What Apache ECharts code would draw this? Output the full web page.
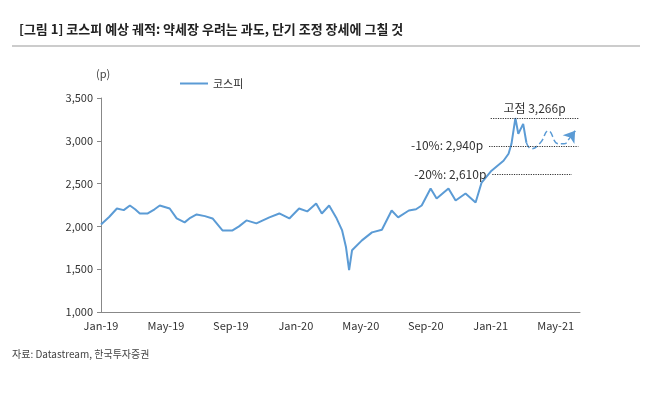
<!DOCTYPE html>
<html><head><meta charset="utf-8">
<script src="https://cdn.jsdelivr.net/npm/echarts@6/dist/echarts.min.js"></script>
<style>body{margin:0;background:#fff}#box{width:654px;height:410px}</style>
</head><body><div id="box"></div>
<script>
// 월 인덱스 (0 = Jan-19), 코스피 값
var months = [0,0.5,0.98,1.4,1.78,2.1,2.39,2.88,3.3,3.62,4.23,4.66,5.15,5.5,5.89,6.4,6.87,7.48,8.1,8.5,8.96,9.57,10.37,10.98,11.6,12.2,12.7,13.25,13.6,14.05,14.48,14.85,15.09,15.28,15.46,16.07,16.69,17.3,17.9,18.3,18.96,19.4,19.75,20.3,20.67,21.4,21.84,22.45,23.07,23.44,24.05,24.79,25.1,25.28,25.52,25.7,26.0,26.2];
var kospi = [2023,2110,2209,2190,2244,2200,2151,2151,2200,2244,2209,2093,2047,2100,2140,2120,2093,1953,1953,2000,2070,2035,2105,2151,2093,2209,2175,2267,2151,2244,2105,1953,1756,1488,1721,1837,1930,1960,2186,2105,2186,2200,2244,2442,2326,2442,2302,2384,2279,2512,2651,2767,2849,2965,3266,3081,3198,2977];
// 예상 궤적 (점선)
var fcMonths = [26.2,26.5,27.06,27.55,28.16,28.5,28.9,29.2];
var fcValues = [2977,2907,2977,3116,2965,2965,3040,3116];
var refLevels = [3266,2940,2610];
var refLabels = ['고점 3,266p','-10%: 2,940p','-20%: 2,610p'];
var monthLabels = {0:'Jan-19',4:'May-19',8:'Sep-19',12:'Jan-20',16:'May-20',20:'Sep-20',24:'Jan-21',28:'May-21'};

var myChart = echarts.init(document.getElementById('box'));
var font = 'Noto Sans CJK KR';
var n = fcMonths.length;
var starts = [24.0,23.9,24.1];
var ends = [29.4,29.4,29.0];
var refLines = refLevels.map(function(v,i){
  return [{coord:[starts[i],v],label:{show:true,formatter:refLabels[i],
    position:i===0?'insideMiddleTop':'start',fontSize:12,color:'#333',distance:i===0?4:6}},
    {coord:[ends[i],v]}];
});
var option = {
  backgroundColor:'#fff',
  textStyle:{fontFamily:font},
  title:{text:'[그림 1] 코스피 예상 궤적: 약세장 우려는 과도, 단기 조정 장세에 그칠 것',left:14,top:18,
    textStyle:{fontSize:13,fontWeight:'bold',color:'#222',fontFamily:font}},
  graphic:[
    {type:'line',shape:{x1:12,y1:46,x2:640,y2:46},style:{stroke:'#999',lineWidth:1}},
    {type:'text',left:96,top:68,style:{text:'(p)',fontSize:11,fill:'#444',fontFamily:font}},
    {type:'text',left:12,top:349,style:{text:'자료: Datastream, 한국투자증권',fontSize:10,fill:'#444',fontFamily:font}}
  ],
  legend:{data:['코스피'],left:175,top:73,itemWidth:28,itemHeight:2,icon:'rect',
    textStyle:{fontSize:11,color:'#333'}},
  grid:{left:101,right:74,top:98,bottom:98},
  xAxis:{type:'value',min:0,max:29.5,interval:4,
    axisLine:{lineStyle:{color:'#888'}},axisTick:{show:false},splitLine:{show:false},
    axisLabel:{fontSize:11,color:'#333',margin:8,showMaxLabel:false,formatter:function(v){return monthLabels[v]||'';}}},
  yAxis:{type:'value',min:1000,max:3500,interval:500,
    axisLine:{show:true,lineStyle:{color:'#888'}},axisTick:{show:true,length:4,lineStyle:{color:'#888'}},splitLine:{show:false},
    axisLabel:{fontSize:11,color:'#333',formatter:function(v){return v.toLocaleString('en-US');}}},
  series:[
    {name:'코스피',type:'line',symbol:'none',color:'#5B9BD5',lineStyle:{width:2},
      data:months.map(function(m,i){return [m,kospi[i]];})},
    {name:'전망',type:'line',symbol:'none',color:'#5B9BD5',lineStyle:{width:1.5,type:'dashed'},smooth:true,
      data:fcMonths.map(function(m,i){return [m,fcValues[i]];}),
      markLine:{silent:true,symbol:'none',lineStyle:{color:'#333',type:'dotted',width:1.2},
        data:refLines.concat([[
          {coord:[fcMonths[n-2],fcValues[n-2]],symbol:'none',lineStyle:{color:'#5B9BD5',type:'solid',width:1.5},label:{show:false}},
          {coord:[fcMonths[n-1],fcValues[n-1]],symbol:'arrow',symbolSize:11}
        ]])}}
  ]
};
myChart.setOption(option);
</script></body></html>
